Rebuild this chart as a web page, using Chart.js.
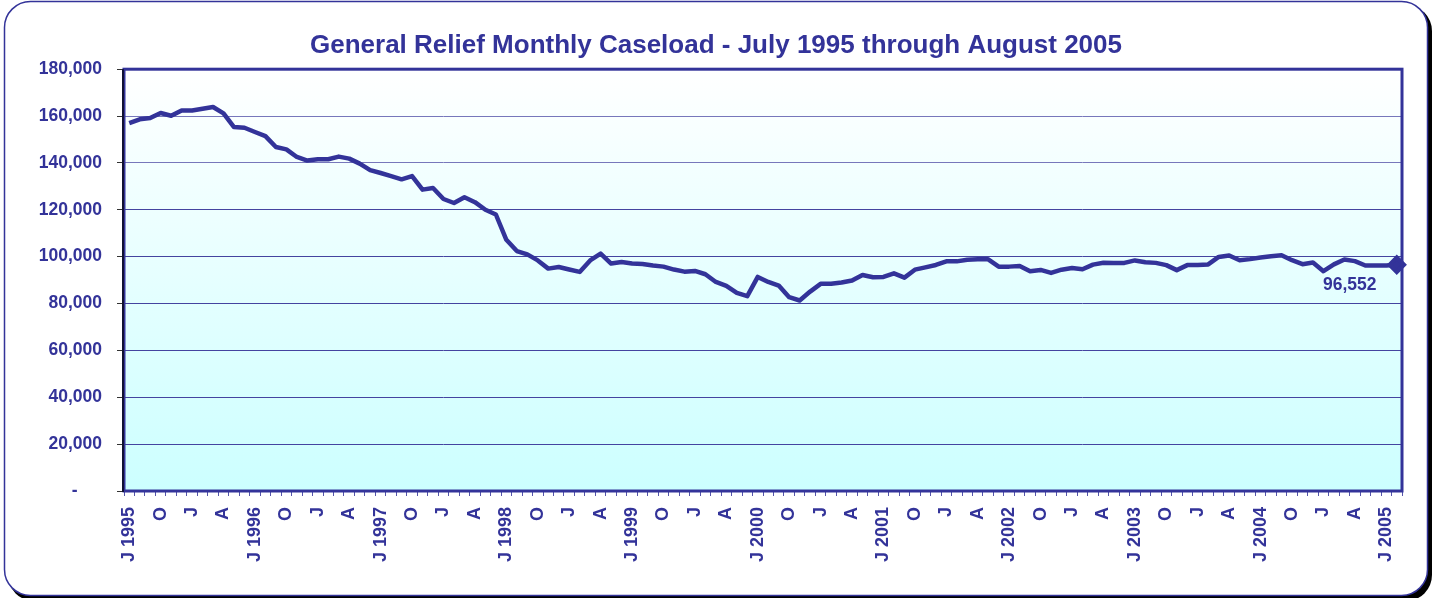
<!DOCTYPE html>
<html>
<head>
<meta charset="utf-8">
<title>General Relief Monthly Caseload</title>
<script src="https://cdn.jsdelivr.net/npm/chart.js@4.4.1/dist/chart.umd.min.js"></script>
<style>
  html, body { margin: 0; padding: 0; background: #ffffff; }
  #wrap { width: 1439px; height: 598px; position: relative; }
</style>
</head>
<body>
<div id="wrap"><canvas id="caseloadChart"></canvas></div>
<script>
// first month of the series: July 1995 (monthIndex 6 = July)
const startYear = 1995;
const startMonth = 6;
const monthLetters = ['J', 'F', 'M', 'A', 'M', 'J', 'J', 'A', 'S', 'O', 'N', 'D'];
const labelMonths = [6, 9, 0, 3]; // J(uly) with year, O, J, A
const yTicks = [0, 20000, 40000, 60000, 80000, 100000, 120000, 140000, 160000, 180000];

// monthly caseload, Jul 1995 .. Aug 2005
const caseload = [
    157000, 158600, 159150, 161300, 160150, 162400, 162400, 163150, 163850, 161150,
    155300, 155000, 153200, 151450, 146800, 145800, 142550, 141000, 141550, 141550,
    142700, 141850, 139700, 136950, 135700, 134400, 133000, 134400, 128600, 129300,
    124600, 122900, 125350, 123250, 120000, 118000, 107200, 102400, 101000, 98400,
    94900, 95600, 94500, 93500, 98400, 101300, 97050, 97700, 97050, 96850,
    96200, 95750, 94500, 93600, 93900, 92500, 89200, 87550, 84550, 83150,
    91350, 89200, 87650, 82700, 81300, 85100, 88400, 88400, 88950, 89800,
    92200, 91200, 91350, 92900, 91050, 94450, 95450, 96450, 98000, 98000,
    98700, 98850, 98850, 95750, 95750, 96000, 93750, 94350, 93050, 94450,
    95150, 94600, 96600, 97400, 97350, 97350, 98400, 97650, 97350, 96400,
    94250, 96400, 96400, 96700, 99900, 100500, 98500, 98950, 99650, 100200,
    100600, 98500, 96800, 97500, 93800, 96700, 98800, 98100, 96250, 96250,
    96250, 96552
];

const navy = '#333399';
const lastIdx = caseload.length - 1;

// category labels built from the start month
const months = caseload.map(function (v, i) {
    const m = (startMonth + i) % 12;
    const y = startYear + Math.floor((startMonth + i) / 12);
    return { m: m, y: y };
});
const categories = months.map(function (d) { return monthLetters[d.m] + ' ' + d.y; });

// background card, plot gradient, frame and the end-value label
const decor = {
    id: 'decor',
    beforeDraw: function (chart) {
        const ctx = chart.ctx;
        const a = chart.chartArea;
        ctx.save();
        // shadow
        ctx.fillStyle = '#000000';
        ctx.beginPath();
        ctx.roundRect(8, 5, 1424, 596, 26);
        ctx.fill();
        // card
        ctx.fillStyle = '#ffffff';
        ctx.strokeStyle = navy;
        ctx.lineWidth = 1.5;
        ctx.beginPath();
        ctx.roundRect(4.5, 1.5, 1423, 594, 26);
        ctx.fill();
        ctx.stroke();
        // plot area gradient
        const g = ctx.createLinearGradient(0, a.top, 0, a.bottom);
        g.addColorStop(0, '#ffffff');
        g.addColorStop(1, '#ccffff');
        ctx.fillStyle = g;
        ctx.fillRect(a.left, a.top, a.right - a.left, a.bottom - a.top);
        ctx.restore();
    },
    afterDatasetsDraw: function (chart) {
        const ctx = chart.ctx;
        const a = chart.chartArea;
        ctx.save();
        ctx.strokeStyle = navy;
        ctx.lineWidth = 3;
        ctx.strokeRect(a.left, a.top, a.right - a.left, a.bottom - a.top);
        ctx.strokeStyle = '#111133';
        ctx.lineWidth = 2;
        ctx.beginPath();
        ctx.moveTo(a.left - 1, a.top);
        ctx.lineTo(a.left - 1, a.bottom + 1);
        ctx.stroke();
        // value label for the last month
        const pt = chart.getDatasetMeta(0).data[lastIdx];
        ctx.fillStyle = navy;
        ctx.font = 'bold 17.5px "Liberation Sans", Arial, sans-serif';
        ctx.textAlign = 'center';
        ctx.textBaseline = 'middle';
        ctx.fillText(caseload[lastIdx].toLocaleString('en-US'), pt.x - 47, pt.y + 20);
        ctx.restore();
    }
};

var ctxEl = document.getElementById('caseloadChart');
var caseloadChart = new Chart(ctxEl, {
    type: 'line',
    data: {
        labels: categories,
        datasets: [{
            label: 'General Relief',
            data: caseload,
            borderColor: navy,
            backgroundColor: navy,
            borderWidth: 4.5,
            borderJoinStyle: 'round',
            tension: 0,
            pointStyle: 'rectRot',
            pointRadius: function (c) { return c.dataIndex === lastIdx ? 7 : 0; },
            pointHoverRadius: 0
        }]
    },
    options: {
        responsive: true,
        maintainAspectRatio: false,
        animation: false,
        layout: { padding: { left: 30, right: 37, top: 0, bottom: 0 } },
        plugins: {
            legend: { display: false },
            tooltip: { enabled: false },
            title: {
                display: true,
                text: 'General Relief Monthly Caseload - July 1995 through August 2005',
                color: navy,
                font: { family: '"Liberation Sans", Arial, sans-serif', size: 26, weight: 'bold' },
                padding: { top: 30, bottom: 8 }
            }
        },
        scales: {
            x: {
                type: 'category',
                offset: true,
                afterFit: function (s) { s.height = 107; },
                grid: {
                    offset: true,
                    drawOnChartArea: false,
                    drawTicks: true,
                    tickLength: 5,
                    color: '#5555aa',
                    lineWidth: 1
                },
                border: { display: false },
                ticks: {
                    autoSkip: false,
                    minRotation: 90,
                    maxRotation: 90,
                    padding: 11,
                    color: navy,
                    font: { family: '"Liberation Sans", Arial, sans-serif', size: 18, weight: 'bold' },
                    callback: function (v, i) {
                        const d = months[i];
                        if (labelMonths.indexOf(d.m) < 0) return '';
                        return d.m === 6 ? 'J ' + d.y : monthLetters[d.m];
                    }
                }
            },
            y: {
                min: 0,
                max: 180000,
                afterFit: function (s) { s.width = 94; },
                afterBuildTicks: function (s) { s.ticks = yTicks.map(function (v) { return { value: v }; }); },
                grid: {
                    color: function (c) { return c.tick && c.tick.value >= 140000 ? '#7777bb' : '#4444a0'; },
                    lineWidth: 1,
                    drawTicks: true,
                    tickLength: 7,
                    tickColor: '#333333'
                },
                border: { display: false },
                ticks: {
                    padding: 15,
                    color: navy,
                    font: { family: '"Liberation Sans", Arial, sans-serif', size: 17.5, weight: 'bold' },
                    callback: function (v) { return v === 0 ? '-     ' : v.toLocaleString('en-US'); }
                }
            }
        }
    },
    plugins: [decor]
});
</script>
</body>
</html>
